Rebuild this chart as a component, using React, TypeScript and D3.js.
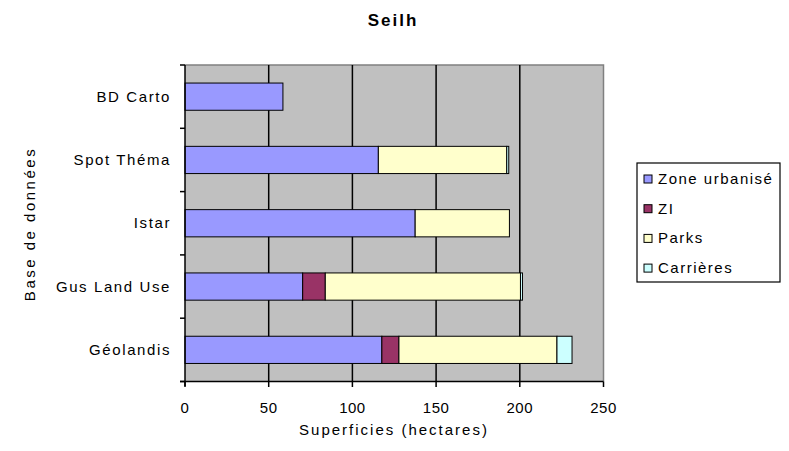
import React from "react"
import * as d3 from "d3"

// top to bottom, as drawn
const categories = ["BD Carto", "Spot Théma", "Istar", "Gus Land Use", "Géolandis"]
const seriesNames = ["Zone urbanisé", "ZI", "Parks", "Carrières"]
const urbain = [58.5, 115.5, 137.5, 70.3, 117.6]
const zi = [0, 0, 0, 13.5, 10.2]
const parks = [0, 76.7, 56.3, 116.6, 94.4]
const carrieres = [0, 1.2, 0, 1.2, 9]
const xTicks = [0, 50, 100, 150, 200, 250]
const colors = ["#9999ff", "#993366", "#ffffcc", "#ccffff"]

const W = 789
const H = 451
const font = "'Liberation Sans', Arial, sans-serif"

export default function App() {
  const x = d3.scaleLinear().domain([0, 250]).range([185, 603.5])
  const y = d3
    .scaleBand()
    .domain(categories)
    .range([65, 381.5])
    .paddingInner(0.57)
    .paddingOuter(0.285)

  const rows = categories.map((c, i) => ({
    cat: c,
    s0: urbain[i],
    s1: zi[i],
    s2: parks[i],
    s3: carrieres[i],
  }))
  const stack = d3.stack<any>().keys(["s0", "s1", "s2", "s3"])(rows)

  const step = y.step()
  const boundaries = categories.map((c, i) => 65 + i * step).concat([381.5])

  return (
    <svg
      width={W}
      height={H}
      style={{ position: "absolute", left: 0, top: 0, background: "#fff" }}
      fontFamily={font}
    >
      {/* title */}
      <text
        x={393}
        y={26}
        textAnchor="middle"
        fontSize={17}
        fontWeight="bold"
        letterSpacing={2}
      >
        Seilh
      </text>

      {/* plot area */}
      <rect x={185} y={65} width={x(250) - 185} height={381.5 - 65} fill="#c0c0c0" />
      <path
        d={`M185,65H${x(250)}V381.5`}
        fill="none"
        stroke="#808080"
        strokeWidth={1.5}
      />
      {xTicks.slice(1, -1).map(t => (
        <line key={t} x1={x(t)} x2={x(t)} y1={65} y2={381.5} stroke="#000" strokeWidth={1.5} />
      ))}

      {/* bars */}
      {stack.map((layer, si) =>
        layer.map((d, i) => {
          const w = x(d[1]) - x(d[0])
          if (w <= 0) return null
          return (
            <rect
              key={si + "-" + i}
              x={x(d[0])}
              y={y(categories[i])}
              width={w}
              height={y.bandwidth()}
              fill={colors[si]}
              stroke="#000"
              strokeWidth={1}
            />
          )
        })
      )}

      {/* axes */}
      <line x1={185} x2={185} y1={65} y2={386} stroke="#000" strokeWidth={1.5} />
      <line x1={180} x2={x(250)} y1={381.5} y2={381.5} stroke="#000" strokeWidth={1.5} />
      {boundaries.map((b, i) => (
        <line key={i} x1={180} x2={185} y1={b} y2={b} stroke="#000" strokeWidth={1.5} />
      ))}
      {xTicks.map(t => (
        <g key={t}>
          <line x1={x(t)} x2={x(t)} y1={381.5} y2={387} stroke="#000" strokeWidth={1.5} />
          <text x={x(t)} y={413} textAnchor="middle" fontSize={15} letterSpacing={0.5}>
            {t}
          </text>
        </g>
      ))}
      {categories.map(c => (
        <text
          key={c}
          x={171}
          y={(y(c) as number) + y.bandwidth() / 2 + 5}
          textAnchor="end"
          fontSize={15}
          letterSpacing={1.6}
        >
          {c}
        </text>
      ))}

      <text x={394} y={435} textAnchor="middle" fontSize={15} letterSpacing={2}>
        Superficies (hectares)
      </text>
      <text
        transform="translate(35,224) rotate(-90)"
        textAnchor="middle"
        fontSize={15}
        letterSpacing={2.5}
      >
        Base de données
      </text>

      {/* legend */}
      <rect x={637} y={163} width={143} height={119} fill="#fff" stroke="#000" strokeWidth={1.2} />
      {seriesNames.map((n, i) => {
        const cy = 179 + i * 29.7
        return (
          <g key={n}>
            <rect x={644} y={cy - 4} width={8} height={8} fill={colors[i]} stroke="#000" strokeWidth={1} />
            <text x={658} y={cy + 5} fontSize={15} letterSpacing={1.5}>
              {n}
            </text>
          </g>
        )
      })}
    </svg>
  )
}
